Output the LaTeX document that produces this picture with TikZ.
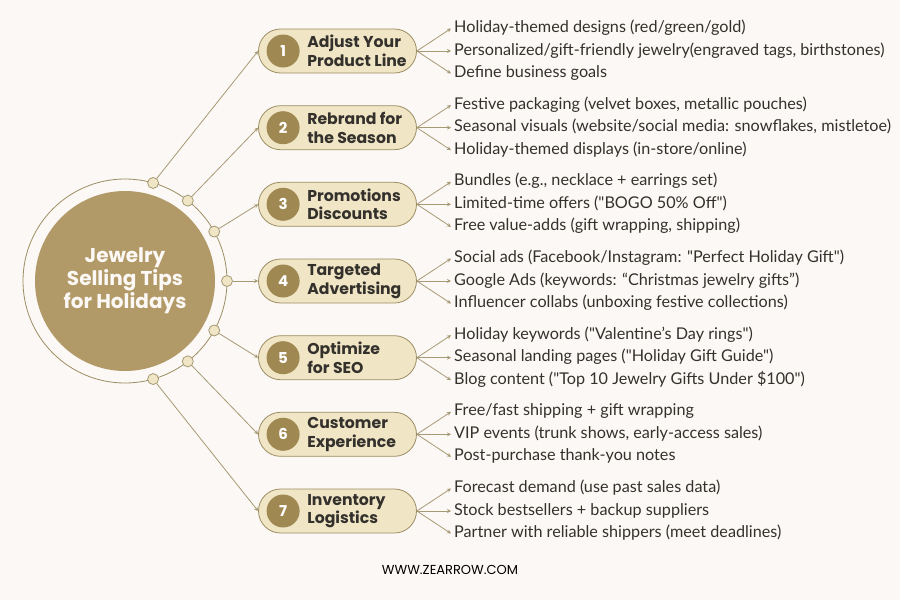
\documentclass[tikz,border=0pt]{standalone}
\usepackage{fontspec}
\setmainfont{Poppins}
\newfontfamily\itemfont{Lato}
\usetikzlibrary{arrows.meta,positioning}

\definecolor{paper}{HTML}{FCF8F5}
\definecolor{gold}{HTML}{B29A68}
\definecolor{darkgold}{HTML}{A08852}
\definecolor{khaki}{HTML}{F0E6C6}
\definecolor{rim}{HTML}{9C8D62}
\definecolor{wire}{HTML}{A69A75}
\definecolor{ink}{HTML}{34312D}

\tikzset{
  hub/.style={circle, fill=gold, minimum size=180pt, inner sep=0pt, outer sep=0pt,
    align=center, text=paper, font=\fontsize{20}{23}\selectfont\bfseries},
  ring/.style={circle, draw=rim, line width=0.8pt, minimum size=204pt, inner sep=0pt, outer sep=0pt},
  ringdot/.style={circle, fill=khaki, draw=wire, line width=0.8pt, minimum size=11pt, inner sep=0pt},
  pill/.style={rectangle, rounded corners=22pt, fill=khaki, draw=rim, line width=0.8pt,
    minimum width=158pt, minimum height=44pt, inner sep=0pt},
  numdot/.style={circle, fill=darkgold, minimum size=33pt, inner sep=0pt, text=white,
    font=\fontsize{15}{15}\selectfont\bfseries},
  title/.style={anchor=west, align=left, inner sep=0pt, text=ink,
    font=\fontsize{15.7}{18.7}\selectfont\bfseries},
  tip/.style={anchor=west, inner sep=3pt, text height=11.5pt, text depth=3.5pt, text=ink,
    font=\itemfont\fontsize{16.2}{19}\selectfont},
  link/.style={draw=wire, line width=0.8pt, -{Stealth[length=4pt,width=4pt]}},
}

\begin{document}
\begin{tikzpicture}[x=1pt, y=-1pt]
  \fill[paper] (0,0) rectangle (900,600);
  \useasboundingbox (0,0) rectangle (900,600);

  % centre
  \node[ring] (ring) at (125,281) {};
  \node[hub] (hub) at (125,281) {Jewelry\\Selling Tips\\for Holidays};

  \node[ringdot] (d1) at (ring.74)  {};
  \node[ringdot] (d2) at (ring.52)  {};
  \node[ringdot] (d3) at (ring.29)  {};
  \node[ringdot] (d4) at (ring.0)   {};
  \node[ringdot] (d5) at (ring.-29) {};
  \node[ringdot] (d6) at (ring.-52) {};
  \node[ringdot] (d7) at (ring.-74) {};

  % pills
  \node[pill] (p1) at (337.5,51)    {};
  \node[pill] (p2) at (337.5,127.7) {};
  \node[pill] (p3) at (337.5,204.3) {};
  \node[pill] (p4) at (337.5,281)   {};
  \node[pill] (p5) at (337.5,357.7) {};
  \node[pill] (p6) at (337.5,434.3) {};
  \node[pill] (p7) at (337.5,511)   {};

  \node[numdot] (n1) at ([xshift=25]p1.west) {1};
  \node[numdot] (n2) at ([xshift=25]p2.west) {2};
  \node[numdot] (n3) at ([xshift=25]p3.west) {3};
  \node[numdot] (n4) at ([xshift=25]p4.west) {4};
  \node[numdot] (n5) at ([xshift=25]p5.west) {5};
  \node[numdot] (n6) at ([xshift=25]p6.west) {6};
  \node[numdot] (n7) at ([xshift=25]p7.west) {7};

  \node[title] (t1) at ([xshift=49]p1.west) {Adjust Your\\Product Line};
  \node[title] (t2) at ([xshift=49]p2.west) {Rebrand for\\the Season};
  \node[title] (t3) at ([xshift=49]p3.west) {Promotions\\Discounts};
  \node[title] (t4) at ([xshift=49]p4.west) {Targeted\\Advertising};
  \node[title] (t5) at ([xshift=49]p5.west) {Optimize\\for SEO};
  \node[title] (t6) at ([xshift=49]p6.west) {Customer\\Experience};
  \node[title] (t7) at ([xshift=49]p7.west) {Inventory\\Logistics};

  \draw[link] (d1) -- (p1.west);
  \draw[link] (d2) -- (p2.west);
  \draw[link] (d3) -- (p3.west);
  \draw[link] (d4) -- (p4.west);
  \draw[link] (d5) -- (p5.west);
  \draw[link] (d6) -- (p6.west);
  \draw[link] (d7) -- (p7.west);

  % tips
  \node[tip] (a1) at (451,28.5)  {Holiday-themed designs (red/green/gold)};
  \node[tip] (a2) at (451,51)    {Personalized/gift-friendly jewelry(engraved tags, birthstones)};
  \node[tip] (a3) at (451,73.5)  {Define business goals};
  \node[tip] (b1) at (451,105.2) {Festive packaging (velvet boxes, metallic pouches)};
  \node[tip] (b2) at (451,127.7) {Seasonal visuals (website/social media: snowflakes, mistletoe)};
  \node[tip] (b3) at (451,150.2) {Holiday-themed displays (in-store/online)};
  \node[tip] (c1) at (451,181.8) {Bundles (e.g., necklace + earrings set)};
  \node[tip] (c2) at (451,204.3) {Limited-time offers ("BOGO 50\% Off")};
  \node[tip] (c3) at (451,226.8) {Free value-adds (gift wrapping, shipping)};
  \node[tip] (e1) at (451,258.5) {Social ads (Facebook/Instagram: "Perfect Holiday Gift")};
  \node[tip] (e2) at (451,281)   {Google Ads (keywords: “Christmas jewelry gifts”)};
  \node[tip] (e3) at (451,303.5) {Influencer collabs (unboxing festive collections)};
  \node[tip] (f1) at (451,335.2) {Holiday keywords ("Valentine’s Day rings")};
  \node[tip] (f2) at (451,357.7) {Seasonal landing pages ("Holiday Gift Guide")};
  \node[tip] (f3) at (451,380.2) {Blog content ("Top 10 Jewelry Gifts Under \$100")};
  \node[tip] (g1) at (451,411.8) {Free/fast shipping + gift wrapping};
  \node[tip] (g2) at (451,434.3) {VIP events (trunk shows, early-access sales)};
  \node[tip] (g3) at (451,456.8) {Post-purchase thank-you notes};
  \node[tip] (h1) at (451,488.5) {Forecast demand (use past sales data)};
  \node[tip] (h2) at (451,511)   {Stock bestsellers + backup suppliers};
  \node[tip] (h3) at (451,533.5) {Partner with reliable shippers (meet deadlines)};

  \draw[link] (p1.east) -- (a1.west);
  \draw[link] (p1.east) -- (a2.west);
  \draw[link] (p1.east) -- (a3.west);
  \draw[link] (p2.east) -- (b1.west);
  \draw[link] (p2.east) -- (b2.west);
  \draw[link] (p2.east) -- (b3.west);
  \draw[link] (p3.east) -- (c1.west);
  \draw[link] (p3.east) -- (c2.west);
  \draw[link] (p3.east) -- (c3.west);
  \draw[link] (p4.east) -- (e1.west);
  \draw[link] (p4.east) -- (e2.west);
  \draw[link] (p4.east) -- (e3.west);
  \draw[link] (p5.east) -- (f1.west);
  \draw[link] (p5.east) -- (f2.west);
  \draw[link] (p5.east) -- (f3.west);
  \draw[link] (p6.east) -- (g1.west);
  \draw[link] (p6.east) -- (g2.west);
  \draw[link] (p6.east) -- (g3.west);
  \draw[link] (p7.east) -- (h1.west);
  \draw[link] (p7.east) -- (h2.west);
  \draw[link] (p7.east) -- (h3.west);

  \node[text=black, font=\fontsize{13}{15}\selectfont] (site) at (450,570) {WWW.ZEARROW.COM};
\end{tikzpicture}
\end{document}
